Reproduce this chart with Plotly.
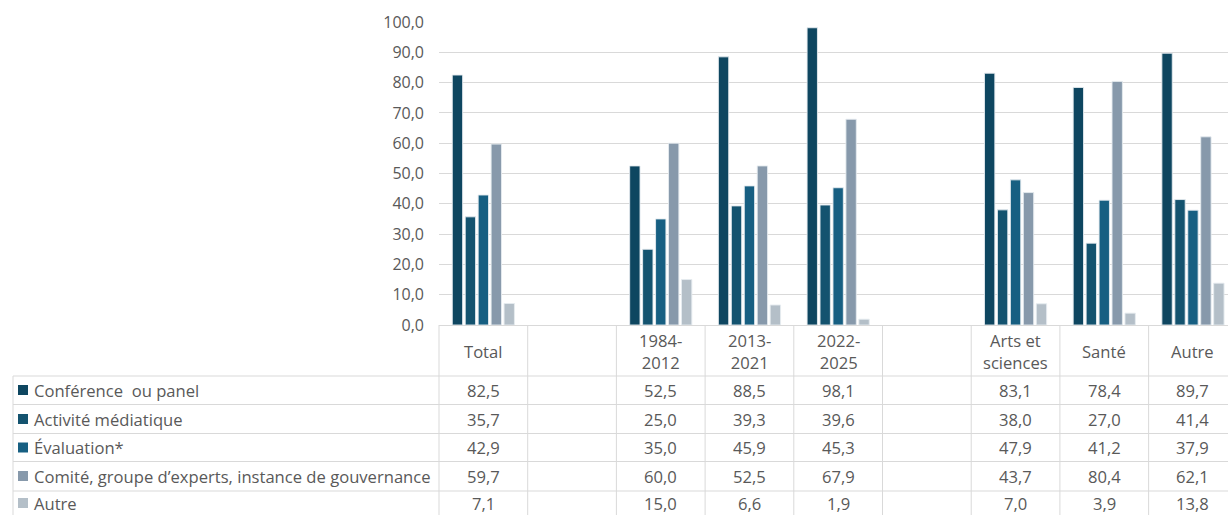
import plotly.graph_objects as go

categories = ["Total", " ", "1984-2012", "2013-2021", "2022-2025", "  ", "Arts et sciences", "Santé", "Autre"]
header_labels = ["Total", "", "1984-<br>2012", "2013-<br>2021", "2022-<br>2025", "", "Arts et<br>sciences", "Santé", "Autre"]

series_names = ["Conférence  ou panel", "Activité médiatique", "Évaluation*",
                "Comité, groupe d’experts, instance de gouvernance", "Autre"]

conference = [82.5, None, 52.5, 88.5, 98.1, None, 83.1, 78.4, 89.7]
mediatique = [35.7, None, 25.0, 39.3, 39.6, None, 38.0, 27.0, 41.4]
evaluation = [42.9, None, 35.0, 45.9, 45.3, None, 47.9, 41.2, 37.9]
comite = [59.7, None, 60.0, 52.5, 67.9, None, 43.7, 80.4, 62.1]
autre = [7.1, None, 15.0, 6.6, 1.9, None, 7.0, 3.9, 13.8]

series_values = [conference, mediatique, evaluation, comite, autre]
colors = ["#0e4660", "#14536f", "#175f82", "#8799ab", "#b4bfc8"]

W, H = 1228, 515
L, T, R = 439, 22, 0
PLOT_BOTTOM = 325
B = H - PLOT_BOTTOM
PW = W - L - R
PH = H - T - B
TEXT = "#595959"
GRID = "#d9d9d9"
FONT = "Open Sans, Roboto, Liberation Sans, Arial, sans-serif"
FS = 16.6


def py(p):  # screen pixel y -> paper
    return (PLOT_BOTTOM - p) / PH


def px(p):  # screen pixel x -> paper
    return (p - L) / PW


fig = go.Figure()
for name, vals, col in zip(series_names, series_values, colors):
    fig.add_trace(go.Bar(
        x=categories, y=vals, name=name,
        marker=dict(color=col, line=dict(color="rgba(230,235,240,0.9)", width=1)),
        showlegend=False,
    ))

shapes = []
annotations = []

row_edges = [376, 404.5, 433.5, 461.5, 491]
for ye in row_edges:
    shapes.append(dict(type="line", xref="paper", yref="paper", x0=px(13), x1=1.02,
                       y0=py(ye), y1=py(ye), line=dict(color=GRID, width=1)))
shapes.append(dict(type="line", xref="paper", yref="paper", x0=px(13), x1=px(13),
                   y0=py(376), y1=py(H + 20), line=dict(color=GRID, width=1)))
shapes.append(dict(type="line", xref="paper", yref="paper", x0=0, x1=0,
                   y0=0, y1=py(H + 20), line=dict(color=GRID, width=1)))
for i in range(1, len(categories)):
    shapes.append(dict(type="line", xref="x", yref="paper", x0=i - 0.5, x1=i - 0.5,
                       y0=0, y1=py(H + 20), line=dict(color=GRID, width=1)))

for cat, lab in zip(categories, header_labels):
    if lab:
        annotations.append(dict(x=cat, xref="x", y=py(351), yref="paper", text=lab,
                                showarrow=False, xanchor="center", yanchor="middle",
                                font=dict(size=FS, color=TEXT, family=FONT)))

row_centers = [390, 419, 447.5, 476, 503]
for name, vals, col, yc in zip(series_names, series_values, colors, row_centers):
    shapes.append(dict(type="rect", xref="paper", yref="paper",
                       x0=px(18), x1=px(28), y0=py(yc + 5), y1=py(yc - 5),
                       fillcolor=col, line=dict(width=0)))
    annotations.append(dict(x=px(32), xref="paper", y=py(yc), yref="paper", text=name,
                            showarrow=False, xanchor="left", yanchor="middle",
                            font=dict(size=FS, color=TEXT, family=FONT)))
    for cat, v in zip(categories, vals):
        if v is not None:
            annotations.append(dict(x=cat, xref="x", y=py(yc), yref="paper",
                                    text=f"{v:.1f}".replace(".", ","),
                                    showarrow=False, xanchor="center", yanchor="middle",
                                    font=dict(size=FS, color=TEXT, family=FONT)))

fig.update_layout(
    width=W, height=H,
    margin=dict(l=L, r=R, t=T, b=B, pad=0),
    paper_bgcolor="white", plot_bgcolor="white",
    barmode="group", bargap=0.27, bargroupgap=0.2,
    separators=", ",
    font=dict(family=FONT, color=TEXT, size=FS),
    xaxis=dict(range=[-0.5, 8.395], showticklabels=False, showgrid=False,
               showline=True, linecolor=GRID, linewidth=1, ticks="", zeroline=False,
               categoryorder="array", categoryarray=categories),
    yaxis=dict(range=[0, 100], dtick=10, tickformat=".1f", showgrid=True,
               gridcolor=GRID, gridwidth=1, zeroline=False, showline=False,
               ticklabelstandoff=14, tickfont=dict(size=16, color=TEXT, family=FONT)),
    shapes=shapes, annotations=annotations,
)

fig.write_html("out.html", config={"displayModeBar": False},
               post_script="document.body.style.margin='0';document.body.style.overflow='hidden';")
